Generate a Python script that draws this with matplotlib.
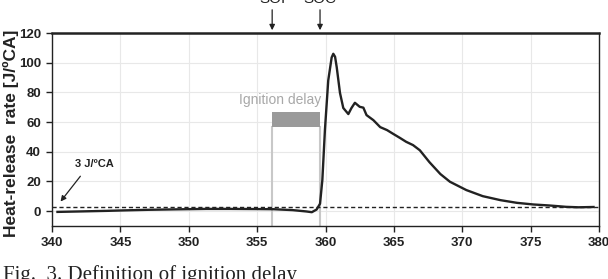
import matplotlib
matplotlib.use("Agg")
import matplotlib.pyplot as plt
from matplotlib.patches import Rectangle

# Data
crank_angle = [340.4, 342.0, 344.0, 345.2, 347.0, 349.0, 351.3, 353.0, 355.0, 356.2,
               357.6, 358.6, 359.0, 359.35, 359.6, 359.77, 359.96, 360.2, 360.45,
               360.57, 360.7, 360.82, 361.06, 361.3, 361.67, 361.9, 362.15, 362.5,
               362.77, 363.0, 363.5, 364.0, 364.5, 364.96, 365.45, 365.9, 366.4,
               366.9, 367.6, 368.4, 369.1, 370.3, 371.5, 372.8, 374.0, 375.2, 376.4,
               377.6, 378.5, 379.6]
heat_release = [-0.5, -0.2, 0.2, 0.5, 0.9, 1.2, 1.5, 1.5, 1.4, 1.3,
                0.7, -0.2, -0.7, 1.1, 5.0, 21.0, 55.0, 88.0, 103.5,
                106.0, 104.0, 97.0, 79.6, 69.5, 65.4, 69.5, 73.0, 70.3,
                69.7, 64.7, 61.3, 56.6, 54.6, 52.0, 49.3, 46.7, 44.5,
                41.0, 33.0, 25.0, 19.8, 14.2, 10.1, 7.4, 5.6, 4.5, 3.8,
                2.9, 2.6, 2.8]
threshold = 3.0
soi = 356.1
soc = 359.6
x_ticks = [340, 345, 350, 355, 360, 365, 370, 375, 380]
y_ticks = [0, 20, 40, 60, 80, 100, 120]

W, H = 608, 279
fig = plt.figure(figsize=(W / 100, H / 100), dpi=100)
ax = fig.add_axes([52 / W, 1 - 226 / H, (599 - 52) / W, (226 - 33) / H])

narrow = ['Liberation Sans Narrow', 'Liberation Sans', 'DejaVu Sans']
sans = ['Liberation Sans', 'DejaVu Sans']

ax.set_xlim(340, 380)
ax.set_ylim(-10, 120)
ax.set_xticks(x_ticks)
ax.set_yticks(y_ticks)
ax.grid(True, color='#e8e8e8', lw=0.8, zorder=0)
ax.set_axisbelow(True)

for lab in ax.get_xticklabels() + ax.get_yticklabels():
    lab.set_family(narrow)
    lab.set_fontsize(9.5)
    lab.set_fontweight('bold')
    lab.set_color('#222222')
ax.tick_params(direction='out', length=4, width=1, color='#222222', pad=4)

for s in ['left', 'right', 'bottom']:
    ax.spines[s].set_linewidth(1.0)
    ax.spines[s].set_color('#222222')
ax.spines['top'].set_linewidth(1.8)
ax.spines['top'].set_color('#222222')

# ignition delay marks
ax.plot([soi, soi], [-10, 56.4], color='#c8c8c8', lw=1.5, zorder=1)
ax.plot([soc, soc], [-10, 56.4], color='#c8c8c8', lw=1.5, zorder=1)
ax.add_patch(Rectangle((soi, 56.4), soc - soi, 66.5 - 56.4, facecolor='#9a9a9a',
                       edgecolor='none', zorder=2))
ax.text(soc + 0.1, 74.8, 'Ignition delay', color='#a8a8a8', fontsize=10,
        ha='right', va='center', family=sans)

# threshold line
ax.axhline(threshold, color='#222222', lw=1.0, ls=(0, (3, 2)), zorder=3)

# curve
ax.plot(crank_angle, heat_release, color='#222222', lw=1.7, zorder=4)

# annotation 3 J/ºCA
ax.annotate('', xy=(340.5, 5.0), xytext=(342.2, 25.0),
            arrowprops=dict(arrowstyle='-|>', color='#222222', lw=0.9,
                            mutation_scale=8))
ax.text(343.1, 31.7, '3 J/ºCA', fontsize=8, fontweight='bold', ha='center',
        va='center', color='#222222', family=narrow)

# SOI / SOC arrows above axes
for xv, lab in [(soi, 'SOI'), (soc, 'SOC')]:
    ax.annotate('', xy=(xv, 120), xytext=(xv, 137.5),
                arrowprops=dict(arrowstyle='-|>', color='#222222', lw=0.9,
                                mutation_scale=8),
                annotation_clip=False)
    ax.text(xv, 138.5, lab, fontsize=11, ha='center', va='bottom', color='#222222',
            family=sans, clip_on=False)

ax.set_ylabel('Heat-release  rate [J/ºCA]', fontsize=12.5, fontweight='bold',
              family=narrow, color='#222222')
ax.yaxis.set_label_coords(-41 / (599 - 52), 0.48)
ax.yaxis.label.set_va('center')

fig.text(3 / W, 1 - 265 / H, 'Fig.  3. Definition of ignition delay', fontsize=15,
         family=['Liberation Serif', 'DejaVu Serif'], ha='left', va='top', color='#222222')

fig.savefig('out.png', dpi=100)
